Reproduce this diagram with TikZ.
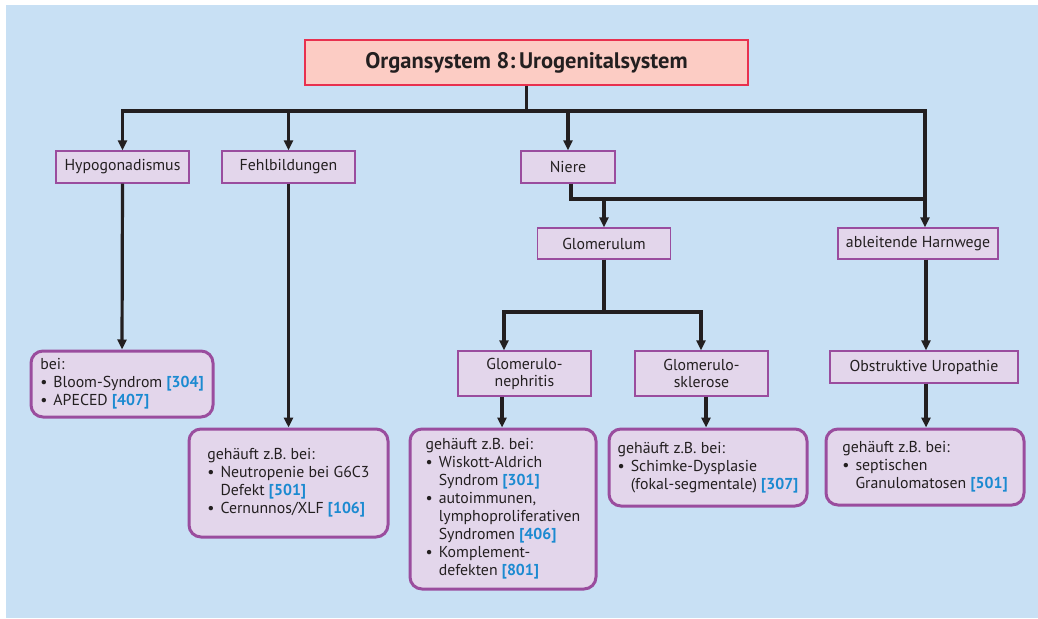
\documentclass[tikz,border=0pt]{standalone}
\usepackage{fontspec}
\setmainfont{PT Sans}
\usetikzlibrary{arrows.meta}

\definecolor{bgblue}{HTML}{C8E0F4}
\definecolor{titlefill}{HTML}{FCCCC4}
\definecolor{titleline}{HTML}{E8314F}
\definecolor{boxfill}{HTML}{E3D6EB}
\definecolor{boxline}{HTML}{9A4D9E}
\definecolor{refblue}{HTML}{1B8AD1}
\definecolor{ink}{HTML}{231F20}

\newcommand{\refn}[1]{\textcolor{refblue}{\textbf{[#1]}}}
\newcommand{\bul}{\textbullet}

\begin{document}
\begin{tikzpicture}[x=1pt,y=-1pt,
  every node/.style={text=ink, font=\fontsize{15.8}{18}\selectfont},
  titlebox/.style={draw=titleline, fill=titlefill, line width=1.2pt, inner sep=0pt,
    font=\fontsize{22.5}{25}\selectfont\bfseries},
  catbox/.style={draw=boxline, fill=boxfill, line width=1.3pt, inner sep=0pt, align=center},
  resbox/.style={draw=boxline, fill=boxfill, line width=3pt, rounded corners=12pt, inner sep=0pt},
  conn/.style={draw=ink, line width=3.2pt, line join=miter},
  arr/.style={conn, -{Triangle[length=10pt,width=9pt]}},
  arrboth/.style={conn, {Triangle[length=10pt,width=9pt]}-{Triangle[length=10pt,width=9pt]}},
]
% background panel
\useasboundingbox (0,0) rectangle (1038,618);
\fill[bgblue] (6,5) rectangle (1038,618);

% header
\node[titlebox, minimum width=443pt, minimum height=45pt] (title) at (526.5,62.5)
  {Organsystem 8:\,Urogenitalsystem};

% first level
\node[catbox, minimum width=133pt, minimum height=32pt] (hypo)  at (122.5,167) {Hypogonadismus};
\node[catbox, minimum width=133pt, minimum height=32pt] (fehl)  at (288.5,167) {Fehlbildungen};
\node[catbox, minimum width=94pt,  minimum height=32pt] (niere) at (568,167)   {Niere};

% second level
\node[catbox, minimum width=133pt, minimum height=31pt] (glom) at (604,243.5) {Glomerulum};
\node[catbox, minimum width=160pt, minimum height=31pt] (harn) at (918,243.5) {ableitende Harnwege};

% third level
\node[catbox, minimum width=133pt, minimum height=45pt] (gn) at (524.5,373.5) {Glomerulo-\\[-1pt]nephritis};
\node[catbox, minimum width=133pt, minimum height=45pt] (gs) at (701.5,373.5) {Glomerulo-\\[-1pt]sklerose};
\node[catbox, minimum width=188pt, minimum height=32pt] (obst) at (924,367) {Obstruktive Uropathie};

% associated syndromes
\node[resbox, minimum width=182pt, minimum height=66pt] (bei) at (122,384)
  {\begin{tabular}{@{}l@{\hspace{6pt}}l@{}}
   \multicolumn{2}{@{}l@{}}{bei:}\\
   \bul & Bloom-Syndrom \refn{304}\\
   \bul & APECED \refn{407}
   \end{tabular}};
\node[resbox, minimum width=199pt, minimum height=108pt] (fehlres) at (288.5,483)
  {\begin{tabular}{@{}l@{\hspace{6pt}}l@{}}
   \multicolumn{2}{@{}l@{}}{gehäuft z.B.\ bei:}\\
   \bul & Neutropenie bei G6C3\\
        & Defekt \refn{501}\\
   \bul & Cernunnos/XLF \refn{106}
   \end{tabular}};
\node[resbox, minimum width=186pt, minimum height=160pt] (gnres) at (503,509)
  {\begin{tabular}{@{}l@{\hspace{6pt}}l@{}}
   \multicolumn{2}{@{}l@{}}{gehäuft z.B.\ bei:}\\
   \bul & Wiskott-Aldrich\\
        & Syndrom \refn{301}\\
   \bul & autoimmunen,\\
        & lymphoproliferativen\\
        & Syndromen \refn{406}\\
   \bul & Komplement-\\
        & defekten \refn{801}
   \end{tabular}};
\node[resbox, minimum width=198pt, minimum height=77pt] (gsres) at (708,467.5)
  {\begin{tabular}{@{}l@{\hspace{6pt}}l@{}}
   \multicolumn{2}{@{}l@{}}{gehäuft z.B.\ bei:}\\
   \bul & Schimke-Dysplasie\\
        & (fokal-segmentale) \refn{307}
   \end{tabular}};
\node[resbox, minimum width=198pt, minimum height=76pt] (obres) at (925,467)
  {\begin{tabular}{@{}l@{\hspace{6pt}}l@{}}
   \multicolumn{2}{@{}l@{}}{gehäuft z.B.\ bei:}\\
   \bul & septischen\\
        & Granulomatosen \refn{501}
   \end{tabular}};

% routing points
\coordinate (busy) at (0,111);
\coordinate (busR) at (925,111);
\coordinate (nj)   at (571,199);
\coordinate (gj)   at (0,312);
\coordinate (gnx)  at (504,0);
\coordinate (gsx)  at (701,0);
\coordinate (gnlo) at (502,0);
\coordinate (gslo) at (706,0);
\coordinate (obx)  at (926,0);

% connectors from the header
\draw[conn] (title.south) -- (title.south |- busy);
\draw[arrboth] (hypo.north) -- (hypo.north |- busy) -- (busR) -- (busR |- harn.north);
\draw[arr] (fehl.north |- busy) -- (fehl.north);
\draw[arr] (niere.north |- busy) -- (niere.north);

% kidney branch
\draw[conn] (niere.south -| nj) -- (nj) -- (nj -| busR);
\draw[arr] (glom.north |- nj) -- (glom.north);
\draw[conn] (glom.south) -- (glom.south |- gj);
\draw[arrboth] (gn.north -| gnx) -- (gnx |- gj) -- (gsx |- gj) -- (gs.north -| gsx);

% down to the associated syndromes
\draw[arr] (hypo.south) -- (bei.north);
\draw[arr] (fehl.south) -- (fehlres.north);
\draw[arr] (gn.south -| gnlo) -- (gnres.north -| gnlo);
\draw[arr] (gs.south -| gslo) -- (gsres.north -| gslo);
\draw[arr] (harn.south -| obx) -- (obst.north -| obx);
\draw[arr] (obst.south -| obx) -- (obres.north -| obx);
\end{tikzpicture}
\end{document}
